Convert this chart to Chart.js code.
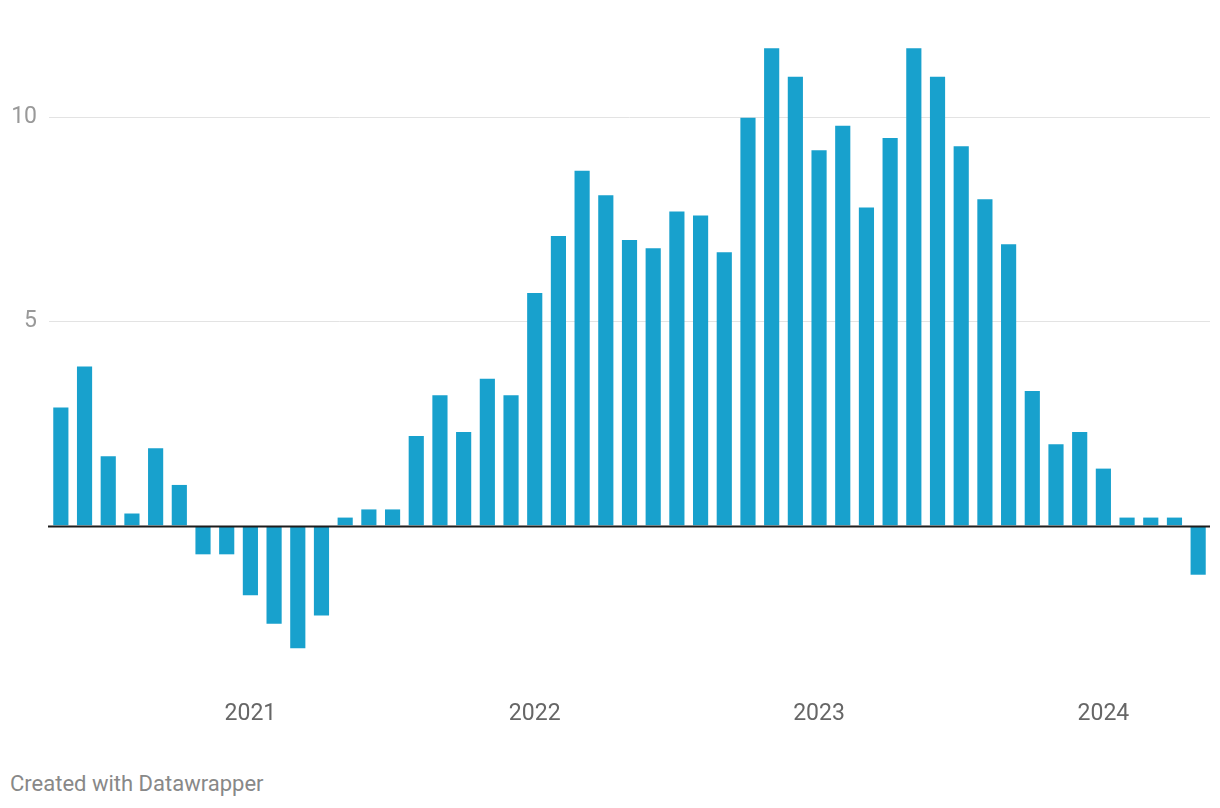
<!DOCTYPE html>
<html>
<head>
<meta charset="utf-8">
<script src="https://cdn.jsdelivr.net/npm/chart.js@4.4.1/dist/chart.umd.min.js"></script>
<style>
  html, body { margin: 0; padding: 0; background: #fff; }
  #wrap { position: relative; width: 1220px; height: 808px; }
  #chart-box { position: absolute; left: 0; top: 0; width: 1220px; height: 745px; }
  #footer {
    position: absolute; left: 10px; top: 771px;
    font-family: Roboto, sans-serif; font-size: 22px; color: #888;
  }
</style>
</head>
<body>
<div id="wrap">
  <div id="chart-box"><canvas id="myChart"></canvas></div>
  <div id="footer">Created with Datawrapper</div>
</div>
<script>
// meses, de mayo 2020 a mayo 2024
const meses = [
  '2020-05','2020-06','2020-07','2020-08','2020-09','2020-10','2020-11','2020-12',
  '2021-01','2021-02','2021-03','2021-04','2021-05','2021-06','2021-07','2021-08','2021-09','2021-10','2021-11','2021-12',
  '2022-01','2022-02','2022-03','2022-04','2022-05','2022-06','2022-07','2022-08','2022-09','2022-10','2022-11','2022-12',
  '2023-01','2023-02','2023-03','2023-04','2023-05','2023-06','2023-07','2023-08','2023-09','2023-10','2023-11','2023-12',
  '2024-01','2024-02','2024-03','2024-04','2024-05'
];
// valores de cada mes
const valores = [
  2.9, 3.9, 1.7, 0.3, 1.9, 1.0, -0.7, -0.7,
  -1.7, -2.4, -3.0, -2.2, 0.2, 0.4, 0.4, 2.2, 3.2, 2.3, 3.6, 3.2,
  5.7, 7.1, 8.7, 8.1, 7.0, 6.8, 7.7, 7.6, 6.7, 10.0, 11.7, 11.0,
  9.2, 9.8, 7.8, 9.5, 11.7, 11.0, 9.3, 8.0, 6.9, 3.3, 2.0, 2.3,
  1.4, 0.2, 0.2, 0.2, -1.2
];
// marcas del eje y
const ticksY = [0, 5, 10];
const minY = -4;
const maxY = 12;

// linea del cero encima de las barras
const lineaCero = {
  id: 'lineaCero',
  afterDatasetsDraw(chart) {
    const {ctx, chartArea, scales} = chart;
    const y = Math.round(scales.y.getPixelForValue(0)) + 0.5;
    ctx.save();
    ctx.strokeStyle = '#1d1d1d';
    ctx.lineWidth = 2;
    ctx.beginPath();
    ctx.moveTo(chartArea.left - 1, y);
    ctx.lineTo(chartArea.right, y);
    ctx.stroke();
    ctx.restore();
  }
};

const ctx = document.getElementById('myChart');
new Chart(ctx, {
  type: 'bar',
  data: {
    labels: meses,
    datasets: [{
      data: valores,
      backgroundColor: '#18a1cd',
      barPercentage: 0.64,
      categoryPercentage: 1.0,
      borderWidth: 0
    }]
  },
  options: {
    responsive: true,
    maintainAspectRatio: false,
    animation: false,
    layout: { padding: { top: 36, right: 10, left: 0, bottom: 0 } },
    plugins: { legend: { display: false }, tooltip: { enabled: false } },
    scales: {
      x: {
        offset: true,
        grid: { display: false, drawTicks: false },
        border: { display: false },
        ticks: {
          autoSkip: false,
          maxRotation: 0,
          padding: 11,
          color: '#666',
          font: { family: 'Roboto', size: 23 },
          callback: function (val, i) {
            const m = meses[i];
            return m.endsWith('-01') ? m.slice(0, 4) : '';
          }
        },
        afterFit: (scale) => { scale.height = 56; }
      },
      y: {
        min: minY,
        max: maxY,
        afterBuildTicks: (scale) => { scale.ticks = ticksY.map(v => ({ value: v })); },
        grid: {
          drawTicks: false,
          color: (c) => c.tick && c.tick.value === 0 ? 'rgba(0,0,0,0)' : '#e3e3e3',
          lineWidth: 1
        },
        border: { display: false },
        ticks: {
          padding: 12,
          color: '#999',
          font: { family: 'Roboto', size: 23 },
          callback: (v) => v === 0 ? '' : v
        },
        afterFit: (scale) => { scale.width = 49; }
      }
    }
  },
  plugins: [lineaCero]
});
</script>
</body>
</html>
